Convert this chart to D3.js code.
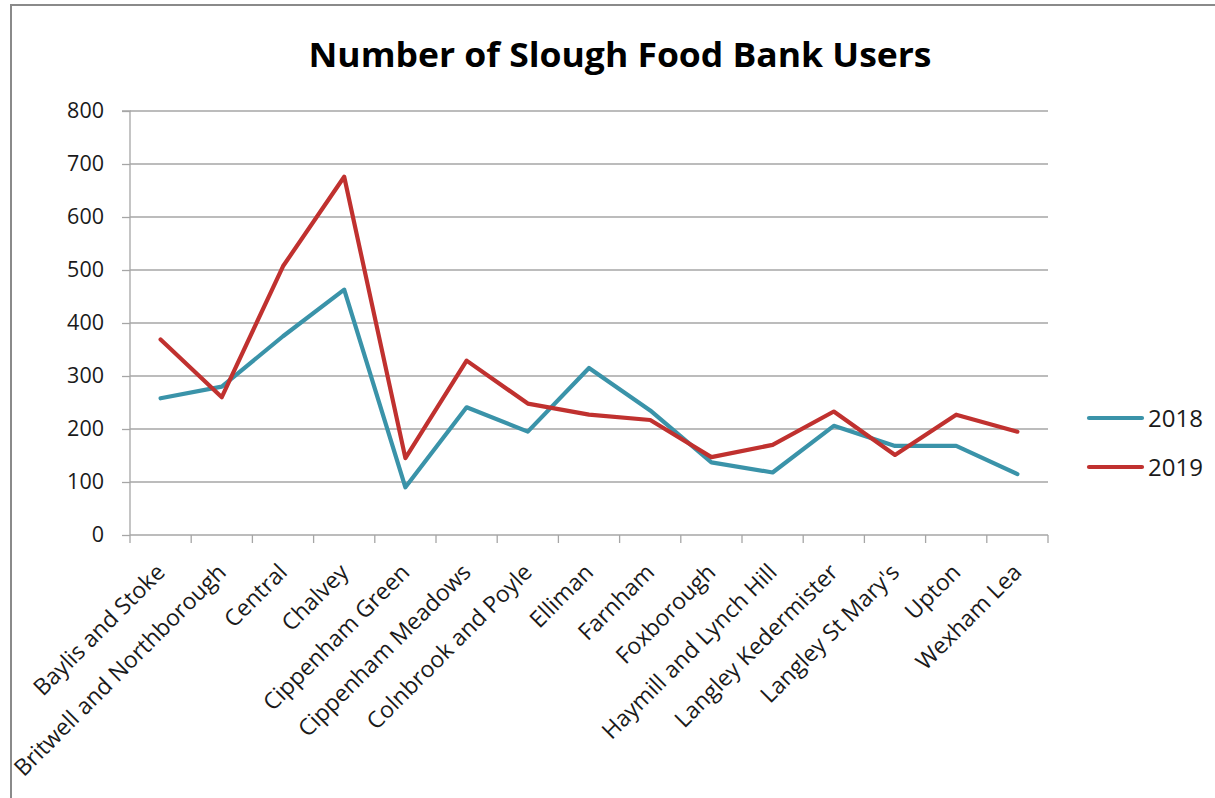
<!DOCTYPE html>
<html><head><meta charset="utf-8">
<script src="https://cdn.jsdelivr.net/npm/d3@7"></script>
<style>
html,body{margin:0;padding:0;background:#fff;}
svg{display:block;font-family:"Open Sans",sans-serif;}
</style></head>
<body>
<svg id="chart" width="1215" height="798"></svg>
<script>
const categories = ["Baylis and Stoke","Britwell and Northborough","Central","Chalvey","Cippenham Green","Cippenham Meadows","Colnbrook and Poyle","Elliman","Farnham","Foxborough","Haymill and Lynch Hill","Langley Kedermister","Langley St Mary's","Upton","Wexham Lea"];
const users2018 = [258,280,375,463,90,241,195,315,235,137,118,206,168,168,115];
const users2019 = [369,260,507,676,145,329,248,227,217,147,170,233,151,227,195];
const yTicks = [0,100,200,300,400,500,600,700,800];
const seriesNames = ["2018","2019"];
const seriesColors = ["#3A93A9","#C0312F"];

(function(){
const svg = d3.select("#chart");
// frame
svg.append("line").attr("x1",10).attr("x2",1215).attr("y1",5).attr("y2",5).attr("stroke","#8a8a8a").attr("stroke-width",2);
svg.append("line").attr("x1",11).attr("x2",11).attr("y1",4).attr("y2",798).attr("stroke","#8a8a8a").attr("stroke-width",2);

const pL=130, pR=1048, pT=111, pB=535;
const x = d3.scaleBand().domain(categories).range([pL,pR]);
const y = d3.scaleLinear().domain([0,800]).range([pB,pT]);

// gridlines
svg.append("g").selectAll("line").data(yTicks.slice(1)).join("line")
  .attr("x1",pL).attr("x2",pR).attr("y1",d=>y(d)).attr("y2",d=>y(d))
  .attr("stroke","#a6a6a6").attr("stroke-width",1.3);

// y axis
const yAxis = svg.append("g").attr("transform",`translate(${pL},0)`)
  .call(d3.axisLeft(y).tickValues(yTicks).tickSize(8).tickPadding(18));
yAxis.select(".domain").attr("stroke","#a6a6a6").attr("stroke-width",1.3).attr("d",`M-8,${pT}H0V${pB}`);
yAxis.selectAll(".tick line").attr("stroke","#a6a6a6").attr("stroke-width",1.3);
yAxis.selectAll(".tick text").attr("font-size",21.5).attr("fill","#1a1a1a").attr("font-family","Open Sans");

// x axis
const xAxis = svg.append("g").attr("transform",`translate(0,${pB})`)
  .call(d3.axisBottom(x).tickSize(0).tickFormat(""));
xAxis.select(".domain").attr("stroke","#a6a6a6").attr("stroke-width",1.3).attr("d",`M${pL},0H${pR}`);
const bounds = [...categories.map(c=>x(c)), pR];
svg.append("g").selectAll("line").data(bounds).join("line")
  .attr("x1",d=>d).attr("x2",d=>d).attr("y1",pB).attr("y2",pB+8)
  .attr("stroke","#a6a6a6").attr("stroke-width",1.3);
svg.append("g").selectAll("text").data(categories).join("text")
  .attr("transform",d=>`translate(${x(d)+x.bandwidth()/2},${pB+33}) rotate(-45)`)
  .attr("text-anchor","end").attr("dy","0.35em")
  .attr("font-size",23).attr("fill","#1a1a1a")
  .text(d=>d);

// lines
const line = d3.line().x((d,i)=>x(categories[i])+x.bandwidth()/2).y(d=>y(d));
[users2018,users2019].forEach((vals,k)=>{
  svg.append("path").datum(vals).attr("d",line).attr("fill","none")
    .attr("stroke",seriesColors[k]).attr("stroke-width",4.2).attr("stroke-linejoin","round").attr("stroke-linecap","round");
});

// legend
const legY=[418,467];
seriesNames.forEach((n,k)=>{
  svg.append("line").attr("x1",1089).attr("x2",1142).attr("y1",legY[k]).attr("y2",legY[k])
    .attr("stroke",seriesColors[k]).attr("stroke-width",4.2).attr("stroke-linecap","round");
  svg.append("text").attr("x",1148).attr("y",legY[k]+9).attr("font-size",24).attr("fill","#1a1a1a").text(n);
});

// title
svg.append("text").attr("x",620).attr("y",67).attr("text-anchor","middle")
  .attr("font-size",34).attr("font-weight","bold").attr("fill","#000")
  .attr("textLength",623).attr("lengthAdjust","spacingAndGlyphs")
  .text("Number of Slough Food Bank Users");
})();
</script>
</body></html>
